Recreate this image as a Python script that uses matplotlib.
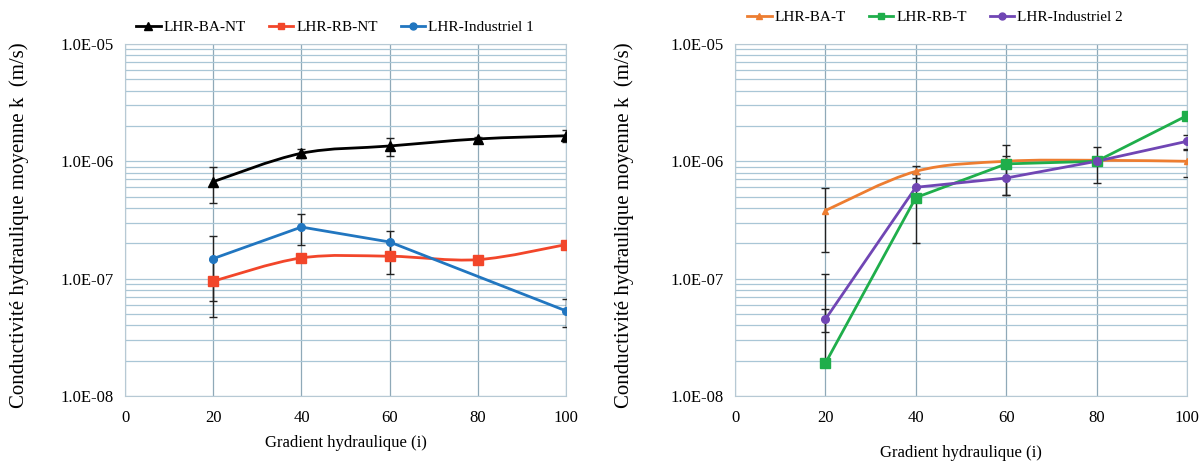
#!/usr/bin/env python3
"""Hydraulic conductivity vs hydraulic gradient, two panels."""

import matplotlib.pyplot as plt
import numpy as np
from matplotlib.patches import PathPatch
from matplotlib.path import Path
from matplotlib.lines import Line2D
from matplotlib.ticker import FixedLocator, LogLocator, NullFormatter

plt.rcParams["font.family"] = ["Liberation Serif", "DejaVu Serif"]

# left panel (non treated)
x_nt = [20, 40, 60, 80, 100]
ba_nt = [0.67e-6, 1.17e-6, 1.35e-6, 1.55e-6, 1.65e-6]
ba_nt_err = [0.23e-6, 0.10e-6, 0.24e-6, 0.06e-6, 0.18e-6]
rb_nt = [0.95e-7, 1.50e-7, 1.55e-7, 1.45e-7, 1.95e-7]
rb_nt_err = [0.48e-7, 0.0, 0.45e-7, 0.0, 0.0]
x_ind1 = [20, 40, 60, 100]
ind1 = [1.48e-7, 2.75e-7, 2.05e-7, 0.53e-7]
ind1_err = [0.84e-7, 0.80e-7, 0.50e-7, 0.14e-7]

# right panel (treated)
x_t = [20, 40, 60, 80, 100]
ba_t = [3.8e-7, 8.2e-7, 1.0e-6, 1.02e-6, 1.0e-6]
ba_t_err = [2.1e-7, 1.0e-7, 0.12e-6, 0.0, 0.26e-6]
rb_t = [1.9e-8, 4.9e-7, 0.95e-6, 1.0e-6, 2.45e-6]
rb_t_err = [[0.0, 2.9e-7, 0.43e-6, 0.35e-6, 0.0], [0.9e-7, 2.9e-7, 0.43e-6, 0.33e-6, 0.0]]
ind2 = [4.5e-8, 6.0e-7, 7.2e-7, 1.0e-6, 1.48e-6]
ind2_err = [1.0e-8, 0.0, 0.2e-6, 0.0, 0.2e-6]

ylabel = "Conductivité hydraulique moyenne k  (m/s)"
xlabel = "Gradient hydraulique (i)"
grid_col = "#a9c6d6"


def smooth_line(ax, xs, ys, color):
    # Excel-like smoothed line: bezier through the points in log space
    lx = np.asarray(xs, float)
    ly = np.log10(np.asarray(ys, float))
    verts = [(lx[0], ys[0])]
    codes = [Path.MOVETO]
    n = len(lx)
    for i in range(n - 1):
        p0 = (lx[max(i - 1, 0)], ly[max(i - 1, 0)])
        p1 = (lx[i], ly[i])
        p2 = (lx[i + 1], ly[i + 1])
        p3 = (lx[min(i + 2, n - 1)], ly[min(i + 2, n - 1)])
        c1 = (p1[0] + (p2[0] - p0[0]) / 6, p1[1] + (p2[1] - p0[1]) / 6)
        c2 = (p2[0] - (p3[0] - p1[0]) / 6, p2[1] - (p3[1] - p1[1]) / 6)
        verts += [(c1[0], 10 ** c1[1]), (c2[0], 10 ** c2[1]), (p2[0], 10 ** p2[1])]
        codes += [Path.CURVE4] * 3
    ax.add_patch(PathPatch(Path(verts, codes), facecolor="none", edgecolor=color,
                           lw=2, zorder=3))


def draw_series(ax, xs, ys, err, color, marker, ms, smooth=False):
    if smooth:
        smooth_line(ax, xs, ys, color)
    else:
        ax.plot(xs, ys, color=color, lw=2, zorder=3)
    ax.errorbar(xs, ys, yerr=err, fmt="none", ecolor="#222222", elinewidth=1,
                capsize=3, capthick=1, zorder=4)
    ax.plot(xs, ys, ls="none", marker=marker, ms=ms, color=color, zorder=5)


def style_axes(ax, ylab_x, xlab_y):
    ax.set_yscale("log")
    ax.set_ylim(1e-8, 1e-5)
    ax.set_xlim(0, 100)
    ax.set_xticks([0, 20, 40, 60, 80, 100])
    ax.yaxis.set_major_locator(FixedLocator([1e-8, 1e-7, 1e-6, 1e-5]))
    ax.yaxis.set_minor_locator(LogLocator(base=10, subs=np.arange(2, 10)))
    ax.yaxis.set_minor_formatter(NullFormatter())
    ax.set_yticklabels(["1.0E-08", "1.0E-07", "1.0E-06", "1.0E-05"])
    ax.tick_params(which="both", length=0, labelsize=12)
    ax.tick_params(axis="x", pad=10)
    ax.tick_params(axis="y", pad=8)
    ax.grid(True, which="both", axis="y", color=grid_col, lw=0.9)
    ax.grid(True, which="major", axis="x", color="#8fa9b8", lw=0.9)
    for s in ax.spines.values():
        s.set_color("#b7c9d4")
    ax.set_ylabel(ylabel, fontsize=15)
    ax.yaxis.set_label_coords(ylab_x, 0.485)
    ax.set_xlabel(xlabel, fontsize=12)
    ax.xaxis.set_label_coords(0.5, xlab_y)


fig = plt.figure(figsize=(12.02, 4.63), dpi=100)
ax1 = fig.add_axes([0.104, 0.145, 0.367, 0.76])
ax2 = fig.add_axes([0.6115, 0.145, 0.376, 0.76])

style_axes(ax1, -0.218, -0.11)
draw_series(ax1, x_nt, ba_nt, ba_nt_err, "#000000", "^", 6.5, smooth=True)
draw_series(ax1, x_nt, rb_nt, rb_nt_err, "#f2462a", "s", 6.5, smooth=True)
draw_series(ax1, x_ind1, ind1, ind1_err, "#2176c0", "o", 5.5)

style_axes(ax2, -0.223, -0.14)
draw_series(ax2, x_t, ba_t, ba_t_err, "#ed7d31", "^", 5, smooth=True)
draw_series(ax2, x_t, rb_t, rb_t_err, "#1fae4b", "s", 6.5)
draw_series(ax2, x_t, ind2, ind2_err, "#7046b4", "o", 5.5)

h1 = [Line2D([], [], color="#000000", marker="^", ms=6, lw=2),
      Line2D([], [], color="#f2462a", marker="s", ms=5, lw=2),
      Line2D([], [], color="#2176c0", marker="o", ms=5, lw=2)]
fig.legend(h1, ["LHR-BA-NT", "LHR-RB-NT", "LHR-Industriel 1"], loc="center",
           bbox_to_anchor=(335 / 1202, 1 - 27 / 463), ncol=3, frameon=False,
           fontsize=11, handlelength=1.6, handletextpad=0.2, columnspacing=1.5)

h2 = [Line2D([], [], color="#ed7d31", marker="^", ms=5, lw=2),
      Line2D([], [], color="#1fae4b", marker="s", ms=5, lw=2),
      Line2D([], [], color="#7046b4", marker="o", ms=5, lw=2)]
fig.legend(h2, ["LHR-BA-T", "LHR-RB-T", "LHR-Industriel 2"], loc="center",
           bbox_to_anchor=(935 / 1202, 1 - 17 / 463), ncol=3, frameon=False,
           fontsize=11, handlelength=1.6, handletextpad=0.2, columnspacing=1.5)

fig.savefig("out.png", dpi=100)
